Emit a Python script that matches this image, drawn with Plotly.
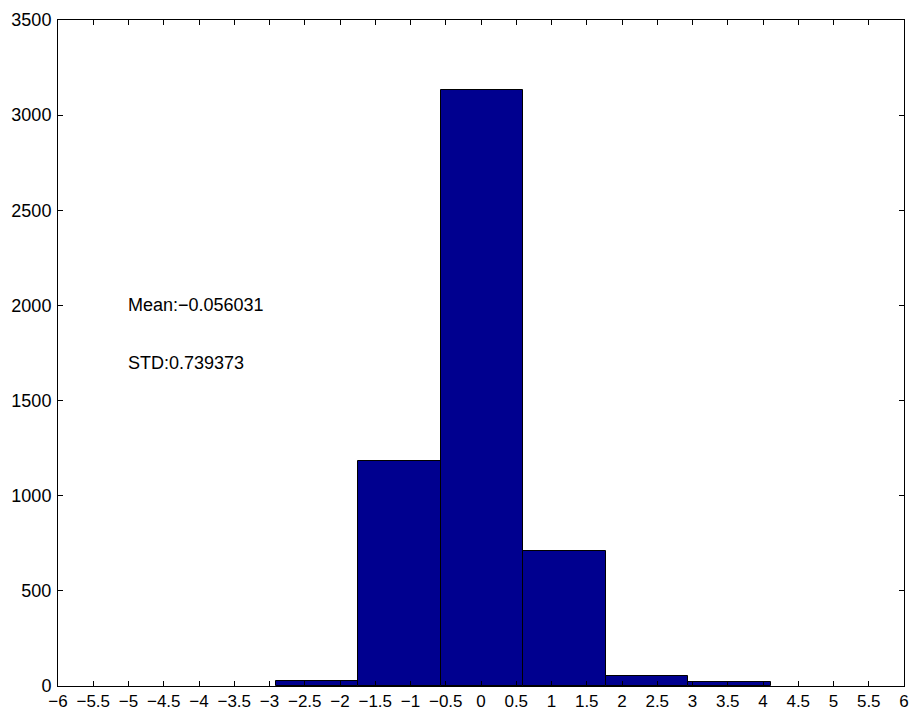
import plotly.graph_objects as go

bin_centers = [-2.323, -1.154, 0.016, 1.185, 2.355, 3.525]
counts = [25, 1184, 3130, 712, 54, 19]
bin_width = 1.1695
x_ticks = [i * 0.5 for i in range(-12, 13)]
y_ticks = [0, 500, 1000, 1500, 2000, 2500, 3000, 3500]
mean_text = "Mean:\u22120.056031"
std_text = "STD:0.739373"

FONT = "Liberation Sans, Arial, Helvetica, sans-serif"

fig = go.Figure()
fig.add_trace(go.Bar(
    x=bin_centers, y=counts, width=bin_width,
    marker=dict(color="#00008F", line=dict(color="black", width=1)),
    showlegend=False, hoverinfo="x+y"))

fig.add_annotation(x=-5, y=2000, text=mean_text, showarrow=False,
                   xanchor="left", yanchor="middle", xshift=-3,
                   font=dict(family=FONT, size=18, color="black"))
fig.add_annotation(x=-5, y=1700, text=std_text, showarrow=False,
                   xanchor="left", yanchor="middle", xshift=-3,
                   font=dict(family=FONT, size=18, color="black"))

axis_common = dict(showline=True, linecolor="black", linewidth=1, mirror="ticks",
                   ticks="inside", ticklen=5, tickcolor="black", showgrid=False,
                   zeroline=False, automargin=False)
fig.update_xaxes(range=[-6, 6], tickvals=x_ticks, ticklabelstandoff=0,
                 tickfont=dict(family=FONT, size=17, color="black"), **axis_common)
fig.update_yaxes(range=[0, 3500], tickvals=y_ticks, ticklabelstandoff=2,
                 tickfont=dict(family=FONT, size=18, color="black"), **axis_common)

fig.update_layout(
    width=911, height=713,
    margin=dict(l=58, r=7, t=20, b=27),
    paper_bgcolor="white", plot_bgcolor="white",
    font=dict(family=FONT, size=18, color="black"),
    bargap=0)

fig.write_html("out.html")
